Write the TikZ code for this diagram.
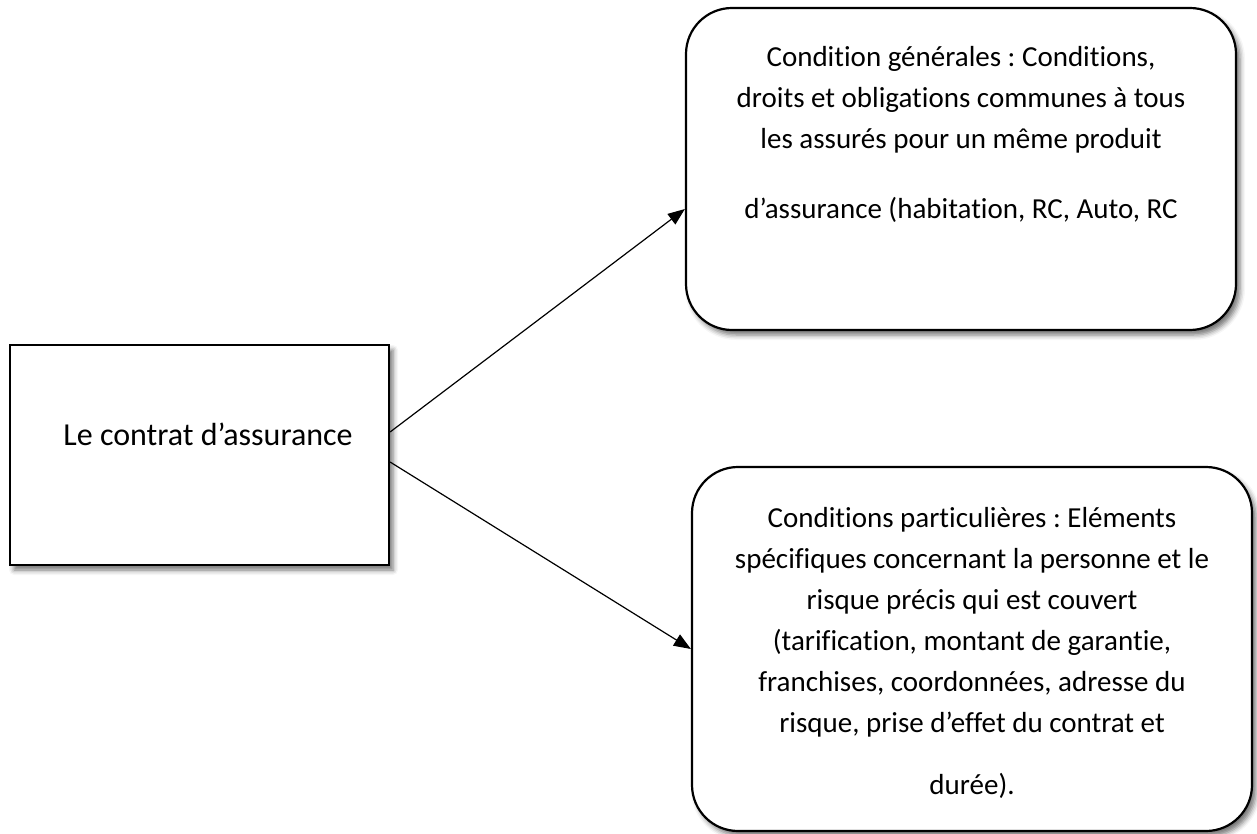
\documentclass[tikz,border=0pt]{standalone}
\usepackage{fontspec}
\setmainfont{Carlito}[Ligatures={NoCommon}]
\usetikzlibrary{arrows.meta,shadows.blur}
\frenchspacing
\newcommand\stacklines[1]{\vtop{\halign{\hfil##\hfil\cr#1\crcr}}}
\begin{document}
\begin{tikzpicture}[x=1pt,y=-1pt,
  boxshadow/.style={blur shadow={shadow xshift=4pt,shadow yshift=-5pt,shadow blur radius=5pt,shadow opacity=55}},
  sqbox/.style={draw=black,line width=2.2pt,fill=white,boxshadow,inner sep=0pt},
  rbox/.style={draw=black,line width=2.2pt,fill=white,rounded corners=46pt,boxshadow,inner sep=0pt},
  txt/.style={anchor=base,inner sep=0pt,font=\fontsize{29}{41}\selectfont},
  conn/.style={line width=1.2pt,-{Triangle[length=17pt,width=13pt]}}
]
\useasboundingbox (0,0) rectangle (1257,834);
\node[sqbox,minimum width=379pt,minimum height=220pt] (L) at (199.5,455) {};
\node[rbox,minimum width=550pt,minimum height=322pt] (G) at (961,169) {};
\node[rbox,minimum width=560pt,minimum height=364pt] (P) at (972,649) {};
\node[txt,font=\fontsize{32}{41}\selectfont] (Lt) at (208,445) {Le contrat d’assurance};
\node[txt] (Gt) at (961,67) {\stacklines{Condition générales : Conditions,\cr droits et obligations communes à tous\cr les assurés pour un même produit\cr\noalign{\vskip 29pt} d’assurance (habitation, RC, Auto, RC}};
\node[txt] (Pt) at (972,527) {\stacklines{Conditions particulières : Eléments\cr spécifiques concernant la personne et le\cr risque précis qui est couvert\cr (tarification, montant de garantie,\cr franchises, coordonnées, adresse du\cr risque, prise d’effet du contrat et\cr\noalign{\vskip 21pt} durée).}};
\draw[conn] ([yshift=23pt]L.east) -- ([yshift=-40pt]G.west);
\draw[conn] ([yshift=-7pt]L.east) -- (P.west);
\end{tikzpicture}
\end{document}
